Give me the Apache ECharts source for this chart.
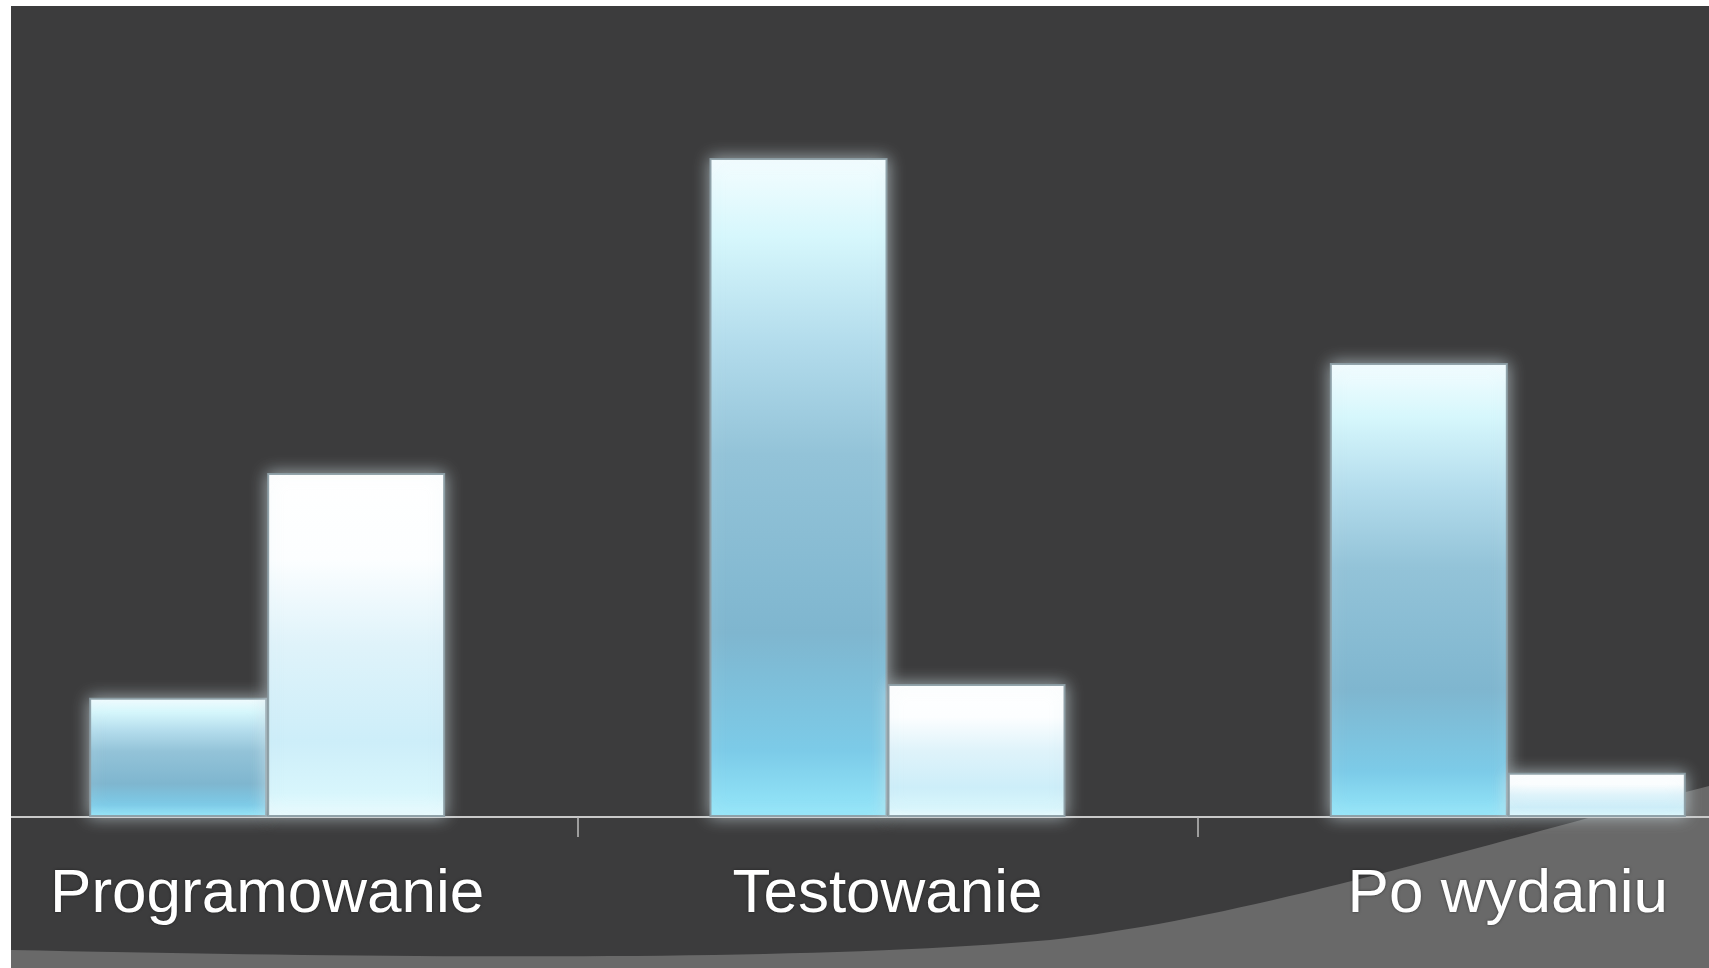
<!DOCTYPE html>
<html>
<head>
<meta charset="utf-8">
<title>Programowanie / Testowanie / Po wydaniu</title>
<script src="https://cdn.jsdelivr.net/npm/echarts@6/dist/echarts.min.js"></script>
<style>
  html, body { margin: 0; padding: 0; background: #ffffff; overflow: hidden; width: 1709px; height: 968px; }
  /* obszar wykresu wychodzi poza kadr, jak w oryginale (kategorie są przycięte po bokach) */
  #chart { position: absolute; left: -43px; top: 0; width: 1861px; height: 968px; }
</style>
</head>
<body>
<div id="chart"></div>
<script>
const categories = ['Programowanie', 'Testowanie', 'Po wydaniu']
const seriesBlue = [18.1, 100, 68.9]
const seriesWhite = [52.2, 20.2, 6.7]

const OFF = 43 // przesunięcie kontenera względem kadru
const chart = echarts.init(document.getElementById('chart'))

// gradienty słupków
const linear = (stops) => ({
  type: 'linear', x: 0, y: 0, x2: 0, y2: 1,
  colorStops: stops.map(([offset, color]) => ({ offset, color }))
})
const blueFill = linear([
  [0, '#f4fdff'], [0.12, '#d6f7fc'], [0.28, '#b3dcec'], [0.45, '#93c3d8'],
  [0.72, '#7fb6cf'], [0.9, '#7ccbe8'], [1, '#95e7fa']
])
const whiteFill = linear([
  [0, '#ffffff'], [0.25, '#fcfeff'], [0.5, '#dff3fa'], [0.78, '#cdeef9'],
  [0.93, '#d8f6fc'], [1, '#ebfcff']
])

const glow = {
  borderColor: 'rgba(140,158,165,0.95)',
  borderWidth: 2,
  shadowColor: 'rgba(215,230,235,0.65)',
  shadowBlur: 16
}

// tło: jaśniejsza fala w prawym dolnym rogu (dwa odcinki Beziera)
function bezier(p0, p1, p2, p3, n) {
  const pts = []
  for (let i = 0; i <= n; i++) {
    const t = i / n, u = 1 - t
    pts.push([
      OFF + u * u * u * p0[0] + 3 * u * u * t * p1[0] + 3 * u * t * t * p2[0] + t * t * t * p3[0],
      u * u * u * p0[1] + 3 * u * u * t * p1[1] + 3 * u * t * t * p2[1] + t * t * t * p3[1]
    ])
  }
  return pts
}
const wave = bezier([11, 950], [400, 958], [800, 962], [1050, 940], 40)
  .concat(bezier([1050, 940], [1250, 918], [1490, 842], [1709, 786], 40).slice(1))
  .concat([[OFF + 1709, 786], [OFF + 1818, 760], [OFF + 1818, 968], [OFF + 11, 968]])

const option = {
  backgroundColor: '#3c3c3d',
  animation: false,
  graphic: [
    { type: 'polygon', z: -10, silent: true, shape: { points: wave }, style: { fill: '#696969' } },
    // biała ramka (lewa i górna krawędź)
    { type: 'rect', z: 100, silent: true, shape: { x: 0, y: 0, width: OFF + 11, height: 968 }, style: { fill: '#ffffff' } },
    { type: 'rect', z: 100, silent: true, shape: { x: 0, y: 0, width: 1861, height: 6 }, style: { fill: '#ffffff' } }
  ],
  grid: { left: 0, right: 0, top: 158, bottom: 151, containLabel: false },
  xAxis: {
    type: 'category',
    data: categories,
    axisLine: { lineStyle: { color: '#c9c9c9', width: 2 } },
    axisTick: { show: true, length: 20, lineStyle: { color: '#bdbdbd', width: 1.5 } },
    axisLabel: {
      color: '#ffffff',
      fontSize: 62,
      lineHeight: 62,
      margin: 47,
      fontFamily: '"Liberation Sans", Arial, sans-serif',
      textShadowColor: 'rgba(0,0,0,0.5)',
      textShadowBlur: 3
    }
  },
  yAxis: {
    type: 'value',
    min: 0,
    max: 100,
    show: false,
    splitLine: { show: false }
  },
  series: [
    {
      name: 'Seria 1',
      type: 'bar',
      data: seriesBlue,
      barWidth: 178,
      barGap: '0%',
      itemStyle: Object.assign({ color: blueFill }, glow)
    },
    {
      name: 'Seria 2',
      type: 'bar',
      data: seriesWhite,
      barWidth: 178,
      barGap: '0%',
      itemStyle: Object.assign({ color: whiteFill }, glow)
    }
  ]
}

chart.setOption(option)
window.addEventListener('resize', () => chart.resize())
</script>
</body>
</html>
